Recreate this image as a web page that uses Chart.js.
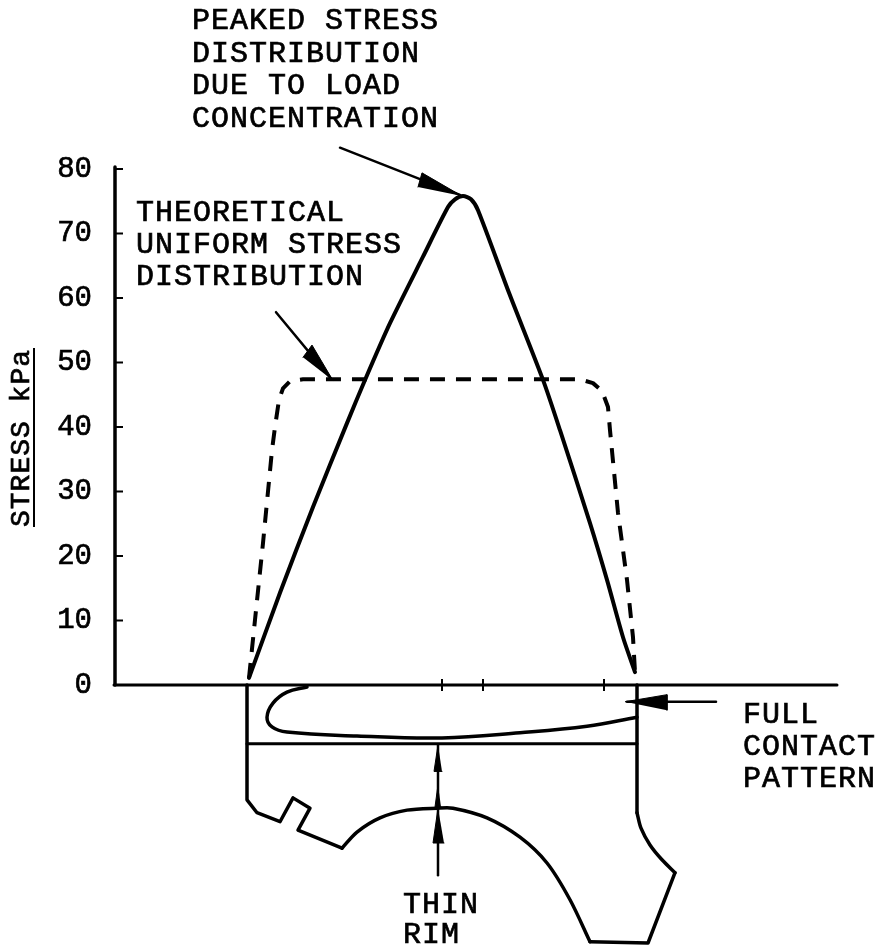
<!DOCTYPE html>
<html>
<head>
<meta charset="utf-8">
<title>Stress distribution</title>
<script src="https://cdn.jsdelivr.net/npm/chart.js@4/dist/chart.umd.js"></script>
<style>
    html, body { margin: 0; padding: 0; background: #fff; }
    canvas { display: block; }
</style>
</head>
<body>
<canvas id="chart" width="884" height="945"></canvas>
<script>
// tick values
var yTicks = [0, 10, 20, 30, 40, 50, 60, 70, 80];
var xTicks = [195, 236, 357];

// x = position across the tread, y = stress kPa (the wheel section hangs below zero)
var peakedX = [2, 33, 66, 100, 118, 143, 176, 201, 208, 216, 224, 231, 262, 296, 313, 343, 360, 376, 388];
var peakedY = [1.1, 14.3, 27.6, 40.6, 47.3, 56.1, 66.4, 74.1, 75.3, 75.8, 75.3, 73.6, 60.8, 47.3, 39.5, 25.1, 16.3, 7.4, 2.0];

var uniformX = [2, 8, 16, 25, 28, 32, 36, 43, 56, 333, 346, 355, 361, 363, 371, 380, 386, 388];
var uniformY = [1.1, 10.1, 22.0, 36.4, 40, 44.2, 46.0, 47.1, 47.4, 47.4, 46.8, 45.6, 43.1, 39.5, 26.7, 16.3, 7.4, 2.0];

var contactX = [60, 40, 26, 20, 25, 40, 110, 195, 273, 340, 390];
var contactY = [-0.3, -1.1, -2.8, -5.0, -6.5, -7.3, -7.9, -8.2, -7.4, -6.4, -5.0];

var rimLineX = [0, 390];
var rimLineY = [-9.1, -9.1];

var wheelLeftX = [0, 0, 10, 33, 46, 63, 51, 95];
var wheelLeftY = [0, -17.8, -19.8, -21.2, -17.5, -19.1, -22.5, -25.3];
var wheelArcX = [95, 110, 133, 160, 190, 206, 240, 273, 300, 323, 343];
var wheelArcY = [-25.3, -22.8, -20.6, -19.4, -19.1, -19.1, -20.6, -23.6, -27.6, -33.3, -39.8];
var wheelRightX = [343, 401, 428];
var wheelRightY = [-39.8, -40, -29.1];
var wheelFlangeX = [428, 415, 403, 394, 390];
var wheelFlangeY = [-29.1, -27.1, -24.8, -22.2, -19.8];
var wheelFaceX = [390, 390];
var wheelFaceY = [-19.8, 0];

var axisYX = [-132, -132];
var axisYY = [0, 80.3];
var axisXX = [-133, 590];
var axisXY = [0, 0];

// arrows: shaft, then head outline
var peakShaftX = [93, 213];
var peakShaftY = [83.3, 76.0];
var peakHeadX = [215, 175, 171];
var peakHeadY = [75.8, 79.4, 77.2];
var uniformShaftX = [29, 84];
var uniformShaftY = [57.8, 47.5];
var uniformHeadX = [86, 65, 56];
var uniformHeadY = [47.2, 52.7, 50.8];
var contactShaftX = [469, 380];
var contactShaftY = [-2.6, -2.6];
var contactHeadX = [378, 420, 420];
var contactHeadY = [-2.6, -1.5, -3.9];
var rimShaftX = [191, 191];
var rimShaftY = [-29.5, -9.3];
var rimHeadUpX = [191, 187, 195];
var rimHeadUpY = [-9.3, -13.4, -13.4];
var rimHeadMidX = [191, 188, 191, 194];
var rimHeadMidY = [-15.5, -18.9, -19.3, -18.9];
var rimHeadLowX = [191, 186, 197];
var rimHeadLowY = [-19.1, -24.5, -24.5];

var notes = [
    { x: 192, y: 29, lines: ["PEAKED STRESS", "DISTRIBUTION", "DUE TO LOAD", "CONCENTRATION"], gap: 32.7 },
    { x: 136, y: 221, lines: ["THEORETICAL", "UNIFORM STRESS", "DISTRIBUTION"], gap: 32 },
    { x: 743, y: 723, lines: ["FULL", "CONTACT", "PATTERN"], gap: 32 },
    { x: 403, y: 913, lines: ["THIN"], gap: 32 },
    { x: 403, y: 943, lines: ["RIM"], gap: 32 }
];

function pts (xs, ys) {
    return xs.map(function (x, i) {
        return { x: x, y: ys[i] };
    });
}

function line (xs, ys, width, extra) {
    return Object.assign({
        data: pts(xs, ys),
        borderColor: "#000",
        borderWidth: width,
        pointRadius: 0,
        showLine: true,
        fill: false,
        tension: 0,
        clip: false,
        borderCapStyle: "round",
        borderJoinStyle: "round"
    }, extra || {});
}

function head (xs, ys) {
    return line(xs, ys, 1, { fill: "shape", backgroundColor: "#000" });
}

var drawingPlugin = {
    id: "drawing",
    afterDatasetsDraw: function (chart) {
        var ctx = chart.ctx,
            xScale = chart.scales.x,
            yScale = chart.scales.y,
            y0 = yScale.getPixelForValue(0),
            left = xScale.left;

        ctx.save();
        ctx.strokeStyle = "#000";

        // tick marks
        ctx.lineWidth = 2;
        yTicks.slice(1).forEach(function (v) {
            var y = yScale.getPixelForValue(v);
            ctx.beginPath();
            ctx.moveTo(left, y);
            ctx.lineTo(left + 8, y);
            ctx.stroke();
        });
        xTicks.forEach(function (v) {
            var x = xScale.getPixelForValue(v);
            ctx.beginPath();
            ctx.moveTo(x, y0 - 6);
            ctx.lineTo(x, y0 + 6);
            ctx.stroke();
        });

        // notes
        ctx.fillStyle = "#000";
        ctx.font = "30px 'Liberation Mono'";
        ctx.letterSpacing = "1px";
        ctx.textAlign = "left";
        ctx.textBaseline = "alphabetic";
        ctx.lineWidth = 0.7;
        notes.forEach(function (n) {
            n.lines.forEach(function (t, i) {
                ctx.fillText(t, n.x, n.y + i * n.gap);
                ctx.strokeText(t, n.x, n.y + i * n.gap);
            });
        });

        // y axis title
        ctx.save();
        ctx.translate(29, 527);
        ctx.rotate(-Math.PI / 2);
        ctx.font = "28px 'Liberation Mono'";
        ctx.letterSpacing = "1px";
        ctx.fillText("STRESS kPa", 0, 0);
        ctx.strokeText("STRESS kPa", 0, 0);
        ctx.restore();
        ctx.lineWidth = 2;
        ctx.beginPath();
        ctx.moveTo(34, 527);
        ctx.lineTo(34, 348);
        ctx.stroke();

        ctx.restore();
    }
};

new Chart(document.getElementById("chart"), {
    type: "scatter",
    data: {
        datasets: [
            line(axisYX, axisYY, 3.5),
            line(axisXX, axisXY, 3),
            line(peakedX, peakedY, 4, { tension: 0.25 }),
            line(uniformX, uniformY, 4, { borderDash: [15, 11], borderCapStyle: "butt" }),
            line(contactX, contactY, 3.5, { tension: 0.4 }),
            line(rimLineX, rimLineY, 3),
            line(wheelLeftX, wheelLeftY, 3.5),
            line(wheelArcX, wheelArcY, 3.5, { tension: 0.3 }),
            line(wheelRightX, wheelRightY, 3.5),
            line(wheelFlangeX, wheelFlangeY, 3.5, { tension: 0.3 }),
            line(wheelFaceX, wheelFaceY, 3.5),
            line(peakShaftX, peakShaftY, 2.5),
            head(peakHeadX, peakHeadY),
            line(uniformShaftX, uniformShaftY, 2.5),
            head(uniformHeadX, uniformHeadY),
            line(contactShaftX, contactShaftY, 2.5),
            head(contactHeadX, contactHeadY),
            line(rimShaftX, rimShaftY, 2.5),
            head(rimHeadUpX, rimHeadUpY),
            head(rimHeadMidX, rimHeadMidY),
            head(rimHeadLowX, rimHeadLowY)
        ]
    },
    options: {
        responsive: false,
        animation: false,
        layout: { padding: 0, autoPadding: false },
        plugins: {
            legend: { display: false },
            tooltip: { enabled: false }
        },
        scales: {
            x: {
                type: "linear",
                display: false,
                min: -132,
                max: 637
            },
            y: {
                type: "linear",
                min: -40.31,
                max: 106.2,
                afterBuildTicks: function (scale) {
                    scale.ticks = yTicks.map(function (v) {
                        return { value: v };
                    });
                },
                afterFit: function (scale) {
                    scale.width = 115;
                    scale.paddingTop = 0;
                    scale.paddingBottom = 0;
                },
                grid: { display: false, drawTicks: false },
                border: { display: false },
                ticks: {
                    padding: 23,
                    color: "#000",
                    textStrokeColor: "#000",
                    textStrokeWidth: 0.7,
                    font: { family: "'Liberation Mono'", size: 29 },
                    autoSkip: false,
                    maxRotation: 0
                }
            }
        }
    },
    plugins: [drawingPlugin]
});
</script>
</body>
</html>
